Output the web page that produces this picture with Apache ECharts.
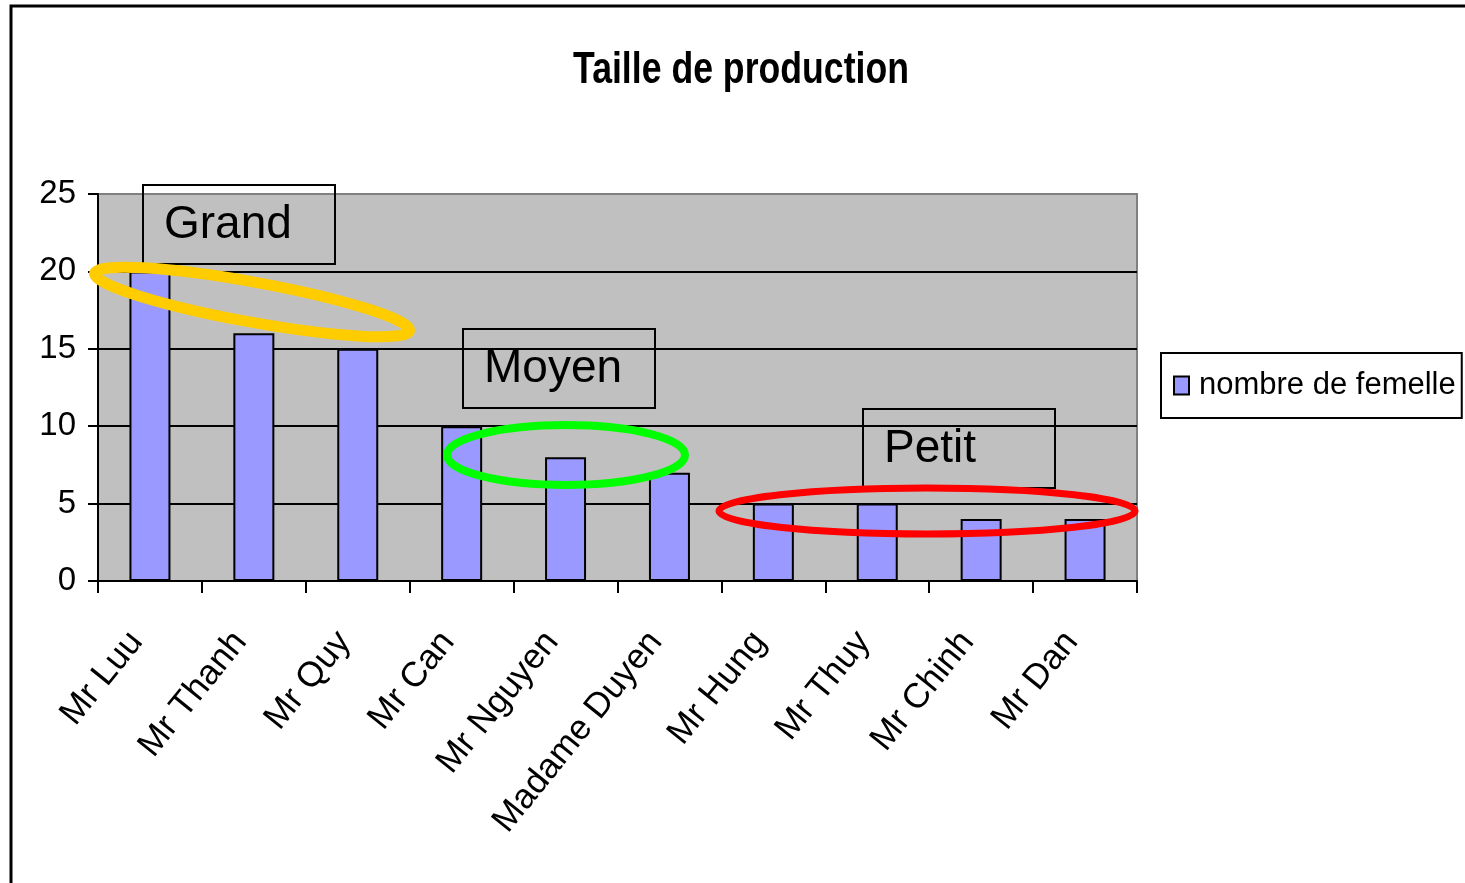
<!DOCTYPE html>
<html>
<head>
<meta charset="utf-8">
<script src="https://cdn.jsdelivr.net/npm/echarts@6/dist/echarts.min.js"></script>
<style>
  html, body { margin: 0; padding: 0; background: #fff; }
  #main { width: 1465px; height: 883px; }
</style>
</head>
<body>
<div id="main"></div>
<script>
// données
const categories = ['Mr Luu', 'Mr Thanh', 'Mr Quy', 'Mr Can', 'Mr Nguyen', 'Madame Duyen', 'Mr Hung', 'Mr Thuy', 'Mr Chinh', 'Mr Dan'];
const femelles = [20, 16, 15, 10, 8, 7, 5, 5, 4, 4];
const yTicks = [0, 5, 10, 15, 20, 25];
const seriesName = 'nombre de femelle';
const titre = 'Taille de production';

const myChart = echarts.init(document.getElementById('main'));
const font = 'Arial, "Liberation Sans", sans-serif';

// boîte + texte d'annotation
function labelBox(x, y, text) {
  return {
    type: 'group',
    x: x, y: y,
    children: [
      { type: 'rect', shape: { x: 0, y: 0, width: 192, height: 79 }, style: { fill: 'none', stroke: '#000', lineWidth: 2 } },
      { type: 'text', x: 21, y: 40, style: { text: text, font: '46px ' + font, fill: '#000', verticalAlign: 'middle' } }
    ]
  };
}
function ring(cx, cy, rx, ry, rot, color, w) {
  return {
    type: 'ellipse', x: cx, y: cy, rotation: rot,
    shape: { cx: 0, cy: 0, rx: rx, ry: ry },
    style: { fill: 'none', stroke: color, lineWidth: w },
    z: 100
  };
}

const option = {
  backgroundColor: '#fff',
  animation: false,
  legend: {
    left: 1161, top: 353,
    orient: 'vertical',
    icon: 'rect',
    itemWidth: 15, itemHeight: 18,
    padding: [17, 6, 17, 12],
    borderColor: '#000', borderWidth: 2,
    itemStyle: { borderColor: '#000', borderWidth: 2 },
    textStyle: { fontFamily: font, fontSize: 31, color: '#000', padding: [0, 0, 0, 5] },
    data: [seriesName]
  },
  grid: {
    left: 98, top: 194, right: 328, bottom: 302,
    show: true,
    backgroundColor: '#C0C0C0',
    borderColor: '#808080', borderWidth: 2
  },
  xAxis: {
    type: 'category',
    data: categories,
    axisLine: { lineStyle: { color: '#000', width: 2 } },
    axisTick: { show: true, length: 12, lineStyle: { color: '#000', width: 2 } },
    axisLabel: {
      rotate: 51, margin: 66, color: '#000', verticalAlign: 'bottom',
      fontFamily: font, fontSize: 35, interval: 0
    }
  },
  yAxis: {
    type: 'value',
    min: yTicks[0], max: yTicks[yTicks.length - 1], interval: 5,
    axisLine: { show: true, lineStyle: { color: '#000', width: 2 } },
    axisTick: { show: true, length: 10, lineStyle: { color: '#000', width: 2 } },
    axisLabel: { color: '#000', fontFamily: font, fontSize: 33, margin: 22 },
    splitLine: { show: true, showMaxLine: false, showMinLine: false, lineStyle: { color: '#000', width: 2 } }
  },
  series: [{
    name: seriesName,
    type: 'bar',
    data: femelles,
    barWidth: 41,
    itemStyle: { color: '#9999FF', borderColor: '#000', borderWidth: 2 }
  }],
  graphic: [
    // cadre extérieur
    { type: 'rect', shape: { x: 11, y: 6, width: 1480, height: 900 }, style: { fill: 'none', stroke: '#000', lineWidth: 3 } },
    // titre (police étroite simulée)
    { type: 'text', x: 573, y: 71, scaleX: 0.81,
      style: { text: titre, font: 'bold 44px ' + font, fill: '#000', verticalAlign: 'middle' } },
    labelBox(143, 185, 'Grand'),
    labelBox(463, 329, 'Moyen'),
    labelBox(863, 409, 'Petit'),
    ring(252, 302, 160, 20, -0.18, '#FFCC00', 11),
    ring(566, 455, 119, 30, 0, '#00FF00', 8),
    ring(927, 511, 208, 23, 0, '#FF0000', 7)
  ]
};
myChart.setOption(option);
</script>
</body>
</html>
